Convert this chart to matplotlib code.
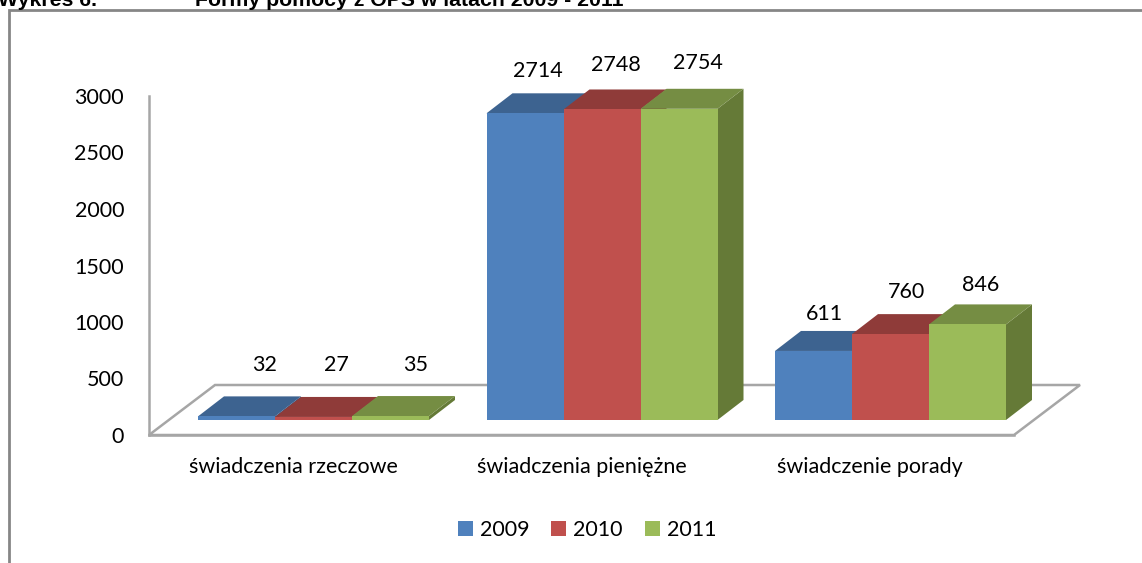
import matplotlib
matplotlib.use("Agg")
import matplotlib.pyplot as plt
from matplotlib.patches import Patch, Polygon
from matplotlib.lines import Line2D

categories = ["świadczenia rzeczowe", "świadczenia pieniężne", "świadczenie porady"]
years = ["2009", "2010", "2011"]
values_2009 = [32, 2714, 611]
values_2010 = [27, 2748, 760]
values_2011 = [35, 2754, 846]
y_ticks = [0, 500, 1000, 1500, 2000, 2500, 3000]
title_left = "Wykres 6."
title_right = "Formy pomocy z OPS w latach 2009 - 2011"

series = [values_2009, values_2010, values_2011]
front = ["#4F81BD", "#C0504D", "#9BBB59"]
top = ["#3D6390", "#8F3B39", "#758D43"]
side = ["#355680", "#7E3331", "#657A37"]
edge = "#A6A6A6"
frame = "#868686"

W, H = 1142, 563
plt.rcParams["font.family"] = ["Lato", "DejaVu Sans"]
FS = 15.5

fig = plt.figure(figsize=(W / 100, H / 100), dpi=100, facecolor="white")

# plot box: spines are the front floor edge and the value axis
L, R, B, T = 149, 1014, 435, 96
ax = fig.add_axes([L / W, 1 - B / H, (R - L) / W, (B - T) / H])
PX_CAT = 288.5           # pixels per category
TICK0 = 293              # pixel of first category tick
ax.set_xlim((L - TICK0) / PX_CAT, (R - TICK0) / PX_CAT)
ax.set_ylim(0, 3000)
ux = 1 / PX_CAT
uy = 3000 / (B - T)
ax.patch.set_alpha(0)

for s in ("top", "right"):
    ax.spines[s].set_visible(False)
for s in ("left", "bottom"):
    ax.spines[s].set_color(edge)
    ax.spines[s].set_linewidth(1.8)

ax.set_yticks(y_ticks)
ax.set_xticks(range(len(categories)), categories)
ax.tick_params(axis="both", length=0, labelsize=FS, labelcolor="black")
ax.tick_params(axis="y", pad=18)
ax.tick_params(axis="x", pad=16)

# floor
fdx, fdy = 66 * ux, 50 * uy
x0, x1 = ax.get_xlim()
ax.add_patch(Polygon([(x0, 0), (x1, 0), (x1 + fdx, fdy), (x0 + fdx, fdy)], closed=True,
                     facecolor="white", edgecolor=edge, linewidth=1.8,
                     clip_on=False, zorder=1, joinstyle="miter"))

# bars
bar_w = 77 * ux
base = 15 * uy
dx, dy = 26 * ux, 20 * uy
label_dx = [[28, 23, 25], [12.5, 13.5, 18.5], [11, 16, 13]]
label_dy = [51, 52, 51], [42, 44.5, 46], [37, 42, 39]
z = 2
for c in range(len(categories)):
    start = c - 95 * ux
    for k, vals in enumerate(series):
        a = start + k * bar_w
        b = a + bar_w
        t = base + vals[c]
        ax.add_patch(Polygon([(b, base), (b + dx, base + dy), (b + dx, t + dy), (b, t)],
                             closed=True, fc=side[k], ec="none", clip_on=False, zorder=z))
        ax.add_patch(Polygon([(a, t), (b, t), (b + dx, t + dy), (a + dx, t + dy)],
                             closed=True, fc=top[k], ec="none", clip_on=False, zorder=z + 0.1))
        ax.add_patch(Polygon([(a, base), (b, base), (b, t), (a, t)],
                             closed=True, fc=front[k], ec="none", clip_on=False, zorder=z + 0.2))
        z += 1
        ax.annotate(str(vals[c]), xy=((a + b) / 2, t),
                    xytext=(label_dx[c][k] * 0.72, label_dy[c][k] * 0.72),
                    textcoords="offset points", ha="center", va="center",
                    fontsize=FS, color="black", zorder=50, annotation_clip=False)

# legend
handles = [Patch(facecolor=front[i], edgecolor="none", label=years[i]) for i in range(3)]
fig.legend(handles=handles, loc="center", bbox_to_anchor=(587 / W, 1 - 530 / H), ncol=3,
           frameon=False, fontsize=FS, handlelength=0.7, handleheight=0.7,
           handletextpad=0.32, columnspacing=1.02, borderpad=0, borderaxespad=0)

# outer frame, running off the page to the right and bottom
lw = 2.0
fig.add_artist(Line2D([8.5 / W, 8.5 / W, 1], [0, 1 - 10 / H, 1 - 10 / H], color=frame, linewidth=lw,
                      solid_joinstyle="miter"))

# heading, cut by the top of the page
fig.text(-2 / W, 1 - 6 / H, title_left, fontfamily="Liberation Sans", fontweight="bold",
         fontsize=15.3, va="baseline", ha="left", color="black")
fig.text(195 / W, 1 - 6 / H, title_right, fontfamily="Liberation Sans", fontweight="bold",
         fontsize=15.3, va="baseline", ha="left", color="black")

fig.savefig("out.png", dpi=100, facecolor="white")
